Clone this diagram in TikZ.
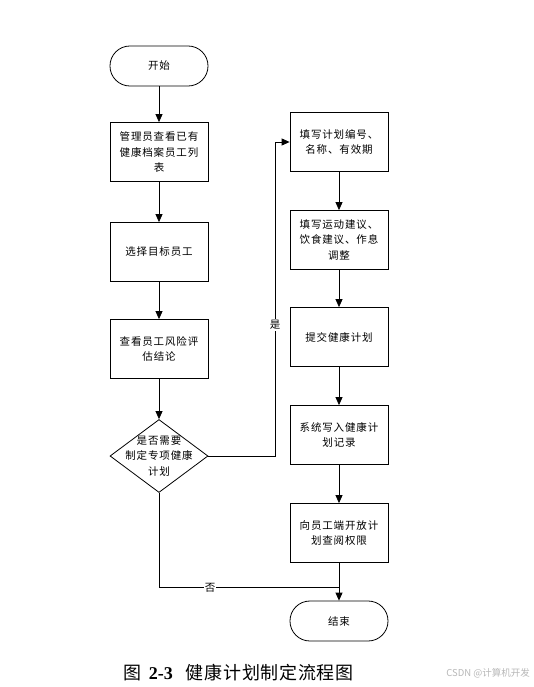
\documentclass[tikz,border=0pt]{standalone}
\usepackage{fontspec}
\setmainfont{Liberation Serif}
\newfontfamily\cjk[LetterSpace=8]{Noto Sans CJK SC}
\newfontfamily\cjkcap[LetterSpace=4]{Noto Sans CJK SC}
\newfontfamily\cjkwm{Noto Sans CJK SC}
\usetikzlibrary{arrows.meta,shapes.geometric}
\begin{document}
\begin{tikzpicture}[x=1pt,y=-1pt,
  txt/.style={font=\cjk\fontsize{10.5}{15.5}\selectfont,align=center},
  box/.style={txt,draw,line width=0.8pt,minimum width=98pt,minimum height=59pt,inner sep=2pt},
  term/.style={txt,draw,line width=0.8pt,minimum width=98pt,minimum height=40pt,rounded corners=19.9pt},
  dec/.style={draw,diamond,line width=0.8pt,minimum width=98pt,minimum height=73pt,inner sep=0pt},
  arr/.style={-{Triangle[length=8pt,width=7pt]},line width=0.8pt},
  ln/.style={line width=0.8pt},
  lbl/.style={txt,fill=white,inner sep=1pt}]
\useasboundingbox (0,0) rectangle (533,687);
\fill[white] (0,0) rectangle (533,687);
% left column
\node[term] (s) at (159,66) {开始};
\node[box] (b1) at (159,152) {管理员查看已有\\健康档案员工列\\表};
\node[box] (b2) at (159,252) {选择目标员工};
\node[box] (b3) at (159,349) {查看员工风险评\\估结论};
\node[dec] (d) at (159,456) {};
\node[txt] (dt) at (159,456) {是否需要\\制定专项健康\\计划};
% right column
\node[box] (a) at (339,142) {填写计划编号、\\名称、有效期};
\node[box] (b) at (339,240) {填写运动建议、\\饮食建议、作息\\调整};
\node[box] (c) at (339,337) {提交健康计划};
\node[box] (dd) at (339,435) {系统写入健康计\\划记录};
\node[box] (e) at (339,533) {向员工端开放计\\划查阅权限};
\node[term] (end) at (339,621) {结束};
% connectors
\draw[arr] (s) -- (b1);
\draw[arr] (b1) -- (b2);
\draw[arr] (b2) -- (b3);
\draw[arr] (b3) -- (d);
\coordinate (yx) at (275,456);
\draw[arr] (d.east) -- (yx) |- (a.west);
\node[lbl] (yes) at (275,325) {是};
\draw[arr] (a) -- (b);
\draw[arr] (b) -- (c);
\draw[arr] (c) -- (dd);
\draw[arr] (dd) -- (e);
\draw[arr] (e) -- (end);
\coordinate (nm) at (339,587);
\draw[ln] (d.south) |- (nm);
\node[lbl] (no) at (210,588) {否};
% caption
\node[anchor=west,inner sep=0pt,font=\fontsize{18}{21}\selectfont] (cap) at (123,673)
  {{\cjkcap 图}\hspace{7pt}\textbf{2-3}\hspace{13pt}{\cjkcap 健康计划制定流程图}};
\node[anchor=east,inner sep=0pt,text=black!28,font=\cjkwm\fontsize{9.5}{11}\selectfont] (wm) at (530,673) {CSDN @计算机开发};
\end{tikzpicture}
\end{document}
